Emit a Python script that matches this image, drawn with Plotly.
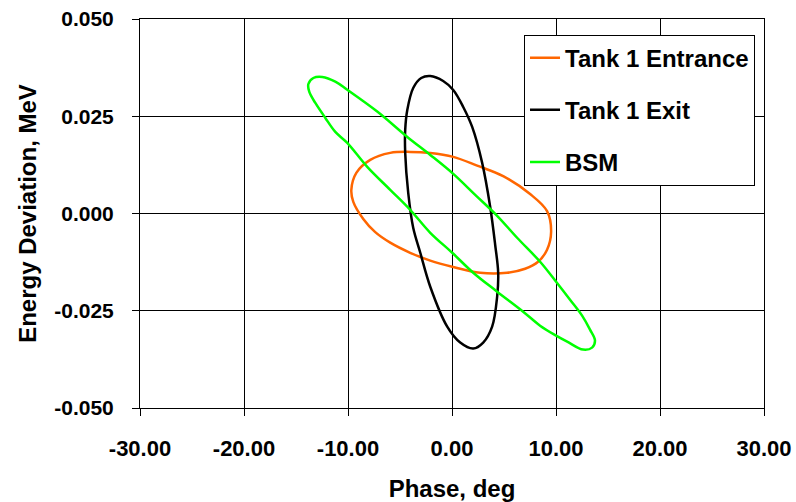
import plotly.graph_objects as go

# ---- data (phase in deg, energy deviation in MeV) ----
entrance_phase = [-9.68, -9.20, -7.86, -5.94, -4.02, -2.09, 0.12, 2.42, 4.92, 7.51, 9.14,
                  9.53, 9.14, 8.28, 7.03, 5.30, 2.71, 0.02, -2.09, -4.02, -5.94, -7.38,
                  -8.53, -9.49]
entrance_energy = [0.00608, 0.01045, 0.01379, 0.01558, 0.01584, 0.01558, 0.01456, 0.01230,
                   0.00960, 0.00500, 0.00060, -0.00470, -0.00932, -0.01240, -0.01420,
                   -0.01523, -0.01523, -0.01369, -0.01210, -0.01010, -0.00750, -0.00480,
                   -0.00140, 0.00300]

exit_phase = [-2.09, -0.85, 0.12, 1.08, 1.94, 2.90, 3.67, 4.15, 4.44, 4.34, 3.86, 3.00,
              2.04, 0.79, -0.46, -2.09, -3.05, -3.73, -4.21, -4.50, -4.50, -4.30, -3.73,
              -2.96]
exit_energy = [0.03535, 0.03406, 0.03175, 0.02739, 0.02225, 0.01301, 0.00172, -0.00803,
               -0.01522, -0.02139, -0.02909, -0.03319, -0.03473, -0.03319, -0.02909,
               -0.01882, -0.01009, -0.00367, 0.00531, 0.01558, 0.02149, 0.02662, 0.03227,
               0.03483]

bsm_phase = [-13.81, -13.33, -12.47, -11.22, -10.07, -7.19, -4.30, -2.09, 0.12, 2.23, 4.34,
             6.26, 8.47, 10.01, 11.35, 12.51, 13.27, 13.75, 13.47, 12.60, 11.07, 10.01,
             8.47, 6.84, 4.34, 2.04, 0.02, -2.09, -4.02, -5.94, -8.15, -10.07, -11.22,
             -12.18, -13.14, -13.72]
bsm_energy = [0.03329, 0.03483, 0.03509, 0.03390, 0.03180, 0.02620, 0.01968, 0.01506,
              0.01019, 0.00480, -0.00059, -0.00624, -0.01240, -0.01753, -0.02215, -0.02626,
              -0.02986, -0.03268, -0.03448, -0.03499, -0.03293, -0.03139, -0.02883,
              -0.02524, -0.02010, -0.01522, -0.01009, -0.00495, 0.00095, 0.00608, 0.01199,
              0.01815, 0.02097, 0.02457, 0.02842, 0.03124]

series_names = ["Tank 1 Entrance", "Tank 1 Exit", "BSM"]

x_tickvals = [-30, -20, -10, 0, 10, 20, 30]
x_ticktext = ["-30.00", "-20.00", "-10.00", "0.00", "10.00", "20.00", "30.00"]
y_tickvals = [-0.05, -0.025, 0.0, 0.025, 0.05]
y_ticktext = ["-0.050", "-0.025", "0.000", "0.025", "0.050"]


def closed(seq):
    return list(seq) + [seq[0]]


FONT = "Liberation Sans, Arial, sans-serif"
colors = ["#FF6600", "#000000", "#00FF00"]
data = [(entrance_phase, entrance_energy), (exit_phase, exit_energy), (bsm_phase, bsm_energy)]

fig = go.Figure()
for name, (xs, ys), color in zip(series_names, data, colors):
    fig.add_trace(go.Scatter(
        x=closed(xs), y=closed(ys), mode="lines", name=name, legendgroup=name,
        line=dict(color=color, width=2.5, shape="spline", smoothing=1),
    ))

axis_common = dict(
    showgrid=True, gridcolor="#000000", gridwidth=1,
    showline=True, linecolor="#000000", linewidth=1, mirror=True,
    ticks="outside", ticklen=7, tickcolor="#000000", tickwidth=1,
    zeroline=False,
)

fig.update_xaxes(
    range=[-30, 30], tickmode="array", tickvals=x_tickvals, ticktext=x_ticktext,
    ticklabelstandoff=14,
    tickfont=dict(family=FONT, size=22, color="#000000", weight="bold"),
    title=dict(text="Phase, deg", font=dict(family=FONT, size=24, color="#000000", weight="bold"),
               standoff=27),
    **axis_common,
)
fig.update_yaxes(
    range=[-0.05, 0.05], tickmode="array", tickvals=y_tickvals, ticktext=y_ticktext,
    ticklabelstandoff=14,
    tickfont=dict(family=FONT, size=21, color="#000000", weight="bold"),
    title=dict(text="Energy Deviation, MeV",
               font=dict(family=FONT, size=24, color="#000000", weight="bold"), standoff=10),
    **axis_common,
)

fig.update_layout(
    width=796, height=502, autosize=False,
    margin=dict(l=140, r=32, t=19, b=94, autoexpand=False),
    paper_bgcolor="#FFFFFF", plot_bgcolor="#FFFFFF",
    font=dict(family=FONT, color="#000000"),
    showlegend=True,
    legend=dict(
        x=0.6154, y=0.96, xanchor="left", yanchor="top",
        bgcolor="#FFFFFF", bordercolor="#000000", borderwidth=1,
        font=dict(family=FONT, size=24, color="#000000", weight="bold"),
        tracegroupgap=18, itemwidth=30,
    ),
)

fig.write_html("out.html")
